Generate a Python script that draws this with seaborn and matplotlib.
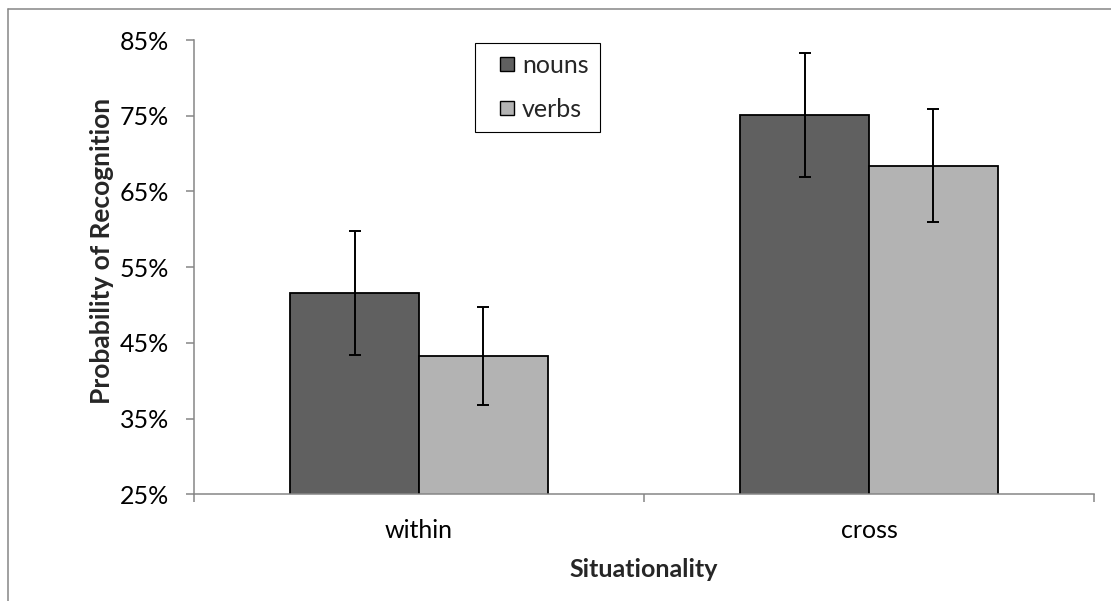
import matplotlib
matplotlib.use("Agg")
import matplotlib.pyplot as plt
import seaborn as sns
import pandas as pd
from matplotlib.lines import Line2D
from matplotlib.ticker import FixedLocator, FuncFormatter

# ---- data ----
categories = ["within", "cross"]
series = ["nouns", "verbs"]
nouns = [51.6, 75.1]
verbs = [43.25, 68.4]
nouns_err = [8.2, 8.15]
verbs_err = [6.5, 7.45]
yticks = [25, 35, 45, 55, 65, 75, 85]
colors = ["#606060", "#b3b3b3"]

sns.set_style("white")
plt.rcParams['font.family'] = ['Lato', 'DejaVu Sans']

W, H = 1111, 601
fig = plt.figure(figsize=(W / 100, H / 100), dpi=100)
ax = fig.add_axes([194 / W, (H - 494.3) / H, 900 / W, 454.3 / H])

df = pd.DataFrame({
    "Situationality": categories * 2,
    "kind": [series[0]] * len(categories) + [series[1]] * len(categories),
    "value": nouns + verbs,
})

sns.barplot(data=df, x="Situationality", y="value", hue="kind",
            order=categories, hue_order=series, palette=colors,
            width=0.572, edgecolor="black", linewidth=1.3, saturation=1,
            errorbar=None, legend=False, ax=ax)

errs = {series[0]: nouns_err, series[1]: verbs_err}
for cont, s in zip(ax.containers, series):
    xs, hs, es = [], [], []
    for b in cont:
        xc = b.get_x() + b.get_width() / 2
        xs.append(xc)
        hs.append(b.get_height())
        es.append(errs[s][int(round(xc))])
    ax.errorbar(xs, hs, yerr=es, fmt='none', ecolor='black',
                elinewidth=1.4, capsize=4.3, capthick=1.4, zorder=5)

ax.set_ylim(25, 85)
ax.set_xlim(-0.5, 1.5)
ax.yaxis.set_major_locator(FixedLocator(yticks))
ax.yaxis.set_major_formatter(FuncFormatter(lambda v, p: f"{v:.0f}%"))
ax.tick_params(axis='y', which='major', left=True, direction='out',
               length=6, width=1.1, color='#868686', pad=12,
               labelsize=18, labelcolor='black')
ax.set_xticks([-0.5, 0.5, 1.5], minor=True)
ax.tick_params(axis='x', which='minor', bottom=True, direction='out',
               length=6, width=1.1, color='#868686')
ax.tick_params(axis='x', which='major', bottom=True, length=0, pad=18,
               labelsize=18, labelcolor='black')

for side in ["top", "right"]:
    ax.spines[side].set_visible(False)
for side in ["left", "bottom"]:
    ax.spines[side].set_color('#868686')
    ax.spines[side].set_linewidth(1.1)

ax.set_xlabel("Situationality", fontsize=18, fontweight='bold')
ax.xaxis.set_label_coords(0.5, -0.14)
ax.set_ylabel("Probability of Recognition", fontsize=19, fontweight='bold')
ax.yaxis.set_label_coords(-0.0889, 0.5355)

handles = [Line2D([], [], ls='none', marker='s', markersize=10,
                  markerfacecolor=c, markeredgecolor='black',
                  markeredgewidth=1.0) for c in colors]
leg = ax.legend(handles, series, loc='upper left',
                bbox_to_anchor=(475 / W, 1 - 42.7 / H),
                bbox_transform=fig.transFigure, borderaxespad=0,
                fontsize=18, borderpad=0.44, labelspacing=0.86,
                handlelength=1.68, handletextpad=-0.24,
                frameon=True, fancybox=False, framealpha=1,
                edgecolor='black')
leg.get_frame().set_linewidth(0.8)

# outer chart frame (top and left edges visible)
fig.add_artist(Line2D([8 / W, 1], [1 - 9 / H] * 2, transform=fig.transFigure,
                      color='#868686', lw=1.1))
fig.add_artist(Line2D([8 / W] * 2, [0, 1 - 9 / H], transform=fig.transFigure,
                      color='#868686', lw=1.1))

fig.savefig("out.png", dpi=100)
